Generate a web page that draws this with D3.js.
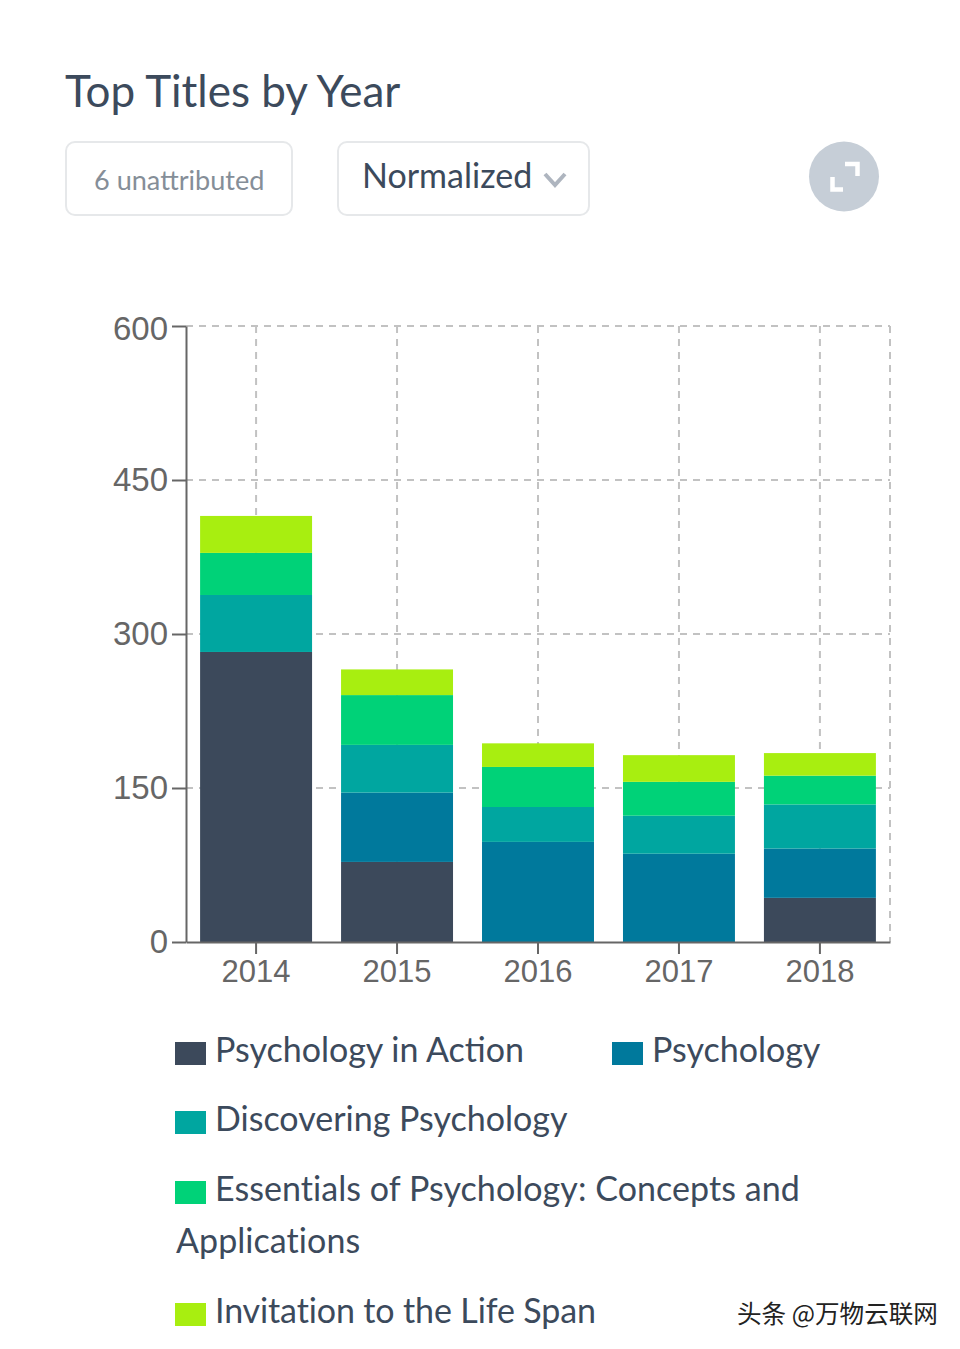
<!DOCTYPE html>
<html>
<head>
<meta charset="utf-8">
<script src="https://cdnjs.cloudflare.com/ajax/libs/d3/7.8.5/d3.min.js"></script>
<style>
    html, body { margin: 0; padding: 0; background: #fff; }
    svg { display: block; }
    .ui { font-family: "Lato", sans-serif; }
    .tick text { font-family: "Liberation Sans", Arial, sans-serif; fill: #666; }
</style>
</head>
<body>
<svg id="chart" width="960" height="1349"></svg>
<script>
const years = ["2014", "2015", "2016", "2017", "2018"];
const titles = ["Psychology in Action", "Psychology", "Discovering Psychology", "Essentials of Psychology: Concepts and Applications", "Invitation to the Life Span"];
const colors = ["#3c495b", "#00799c", "#00a6a0", "#00d278", "#a8ee10"];

const psychologyInAction = [282.5, 78, 0, 0, 43];
const psychology = [0, 67.5, 97.5, 86, 48];
const discovering = [55.5, 46.5, 34, 37, 43];
const essentials = [41, 48.5, 39, 33, 28];
const invitation = [36, 25, 23, 26, 22];
const yTicks = [0, 150, 300, 450, 600];

const series = [psychologyInAction, psychology, discovering, essentials, invitation];
const rows = years.map((year, i) => {
    let row = { year: year };
    titles.forEach((t, j) => { row[t] = series[j][i]; });
    return row;
});

const svg = d3.select("#chart");

// header
svg.append("text").attr("class", "ui").attr("x", 65).attr("y", 107)
    .attr("font-size", 44).attr("fill", "#3c4a5c").text("Top Titles by Year");

svg.append("rect").attr("x", 66).attr("y", 142).attr("width", 226).attr("height", 73).attr("rx", 9)
    .attr("fill", "#fff").attr("stroke", "#e6e8ea").attr("stroke-width", 2);
svg.append("text").attr("class", "ui").attr("x", 94).attr("y", 190)
    .attr("font-size", 27.1).attr("fill", "#858e98").text("6 unattributed");

svg.append("rect").attr("x", 338).attr("y", 142).attr("width", 251).attr("height", 73).attr("rx", 9)
    .attr("fill", "#fff").attr("stroke", "#e6e8ea").attr("stroke-width", 2);
svg.append("text").attr("class", "ui").attr("x", 362).attr("y", 188)
    .attr("font-size", 34).attr("fill", "#3c4a5c").text("Normalized");
svg.append("path").attr("d", "M545,174 L555,185 L565,174").attr("fill", "none")
    .attr("stroke", "#aeb5bf").attr("stroke-width", 4);

// expand button
svg.append("circle").attr("cx", 844).attr("cy", 176.5).attr("r", 35).attr("fill", "#c6ced7");
svg.append("path").attr("d", "M832.5,177 V189.5 H843 M845,164 H857.5 V176").attr("fill", "none")
    .attr("stroke", "#fff").attr("stroke-width", 4.5);

// plot
const x = d3.scaleBand().domain(years).range([186, 890]).paddingInner(0.2057).paddingOuter(0.1);
const y = d3.scaleLinear().domain([0, 600]).range([942, 326]);

const grid = svg.append("g").attr("stroke", "#c2c2c2").attr("stroke-width", 2).attr("stroke-dasharray", "7 6").attr("fill", "none");
grid.selectAll("line.h").data(yTicks.slice(1)).join("line").attr("class", "h")
    .attr("x1", 186).attr("x2", 890).attr("y1", d => y(d)).attr("y2", d => y(d));
grid.selectAll("line.v").data(years).join("line").attr("class", "v")
    .attr("x1", d => x(d) + x.bandwidth() / 2).attr("x2", d => x(d) + x.bandwidth() / 2)
    .attr("y1", 326).attr("y2", 942);
grid.append("line").attr("x1", 890).attr("x2", 890).attr("y1", 326).attr("y2", 942);

const stacked = d3.stack().keys(titles)(rows);
svg.append("g").selectAll("g").data(stacked).join("g")
    .attr("fill", (d, i) => colors[i])
    .selectAll("rect").data(d => d).join("rect")
    .attr("x", d => x(d.data.year))
    .attr("width", x.bandwidth())
    .attr("y", d => y(d[1]))
    .attr("height", d => y(d[0]) - y(d[1]));

const yAxis = svg.append("g").attr("transform", "translate(186,0)")
    .call(d3.axisLeft(y).tickValues(yTicks).tickSize(14).tickSizeOuter(0).tickPadding(4).tickFormat(d3.format("d")));
const xAxis = svg.append("g").attr("transform", "translate(0,942)")
    .call(d3.axisBottom(x).tickSize(12).tickSizeOuter(0).tickPadding(6));
[yAxis, xAxis].forEach(a => {
    a.selectAll("line").attr("stroke", "#666").attr("stroke-width", 2);
    a.select(".domain").attr("stroke", "#666").attr("stroke-width", 2);
});
yAxis.selectAll("text").attr("font-size", 33);
xAxis.selectAll("text").attr("font-size", 31);
// the top label sits a little lower in the original
yAxis.selectAll(".tick").filter(d => d === 600).select("text").attr("dy", "0.42em");

// legend, wrapped by hand the way the page flows it
const legendX = [175, 612, 175, 175, 175];
const legendY = [1062, 1062, 1131, 1201, 1323];
const legendSpacing = [0, 0, 0, 0.06, -0.13];
titles.forEach((t, i) => {
    svg.append("rect").attr("x", legendX[i]).attr("y", legendY[i] - 20).attr("width", 31).attr("height", 23).attr("fill", colors[i]);
    const label = svg.append("text").attr("class", "ui").attr("font-size", 34).attr("fill", "#3c4a5c")
        .attr("letter-spacing", legendSpacing[i]);
    if (t.endsWith(" Applications")) {
        label.append("tspan").attr("x", legendX[i] + 40).attr("y", legendY[i]).text(t.replace(" Applications", ""));
        label.append("tspan").attr("x", legendX[i] + 1).attr("y", legendY[i] + 52).text("Applications");
    } else {
        label.attr("x", legendX[i] + 40).attr("y", legendY[i]).text(t);
    }
});

// watermark
svg.append("text").attr("x", 737).attr("y", 1323).attr("font-family", "Noto Sans CJK SC")
    .attr("font-size", 24.6).attr("fill", "#222").text("头条 @万物云联网");
</script>
</body>
</html>
